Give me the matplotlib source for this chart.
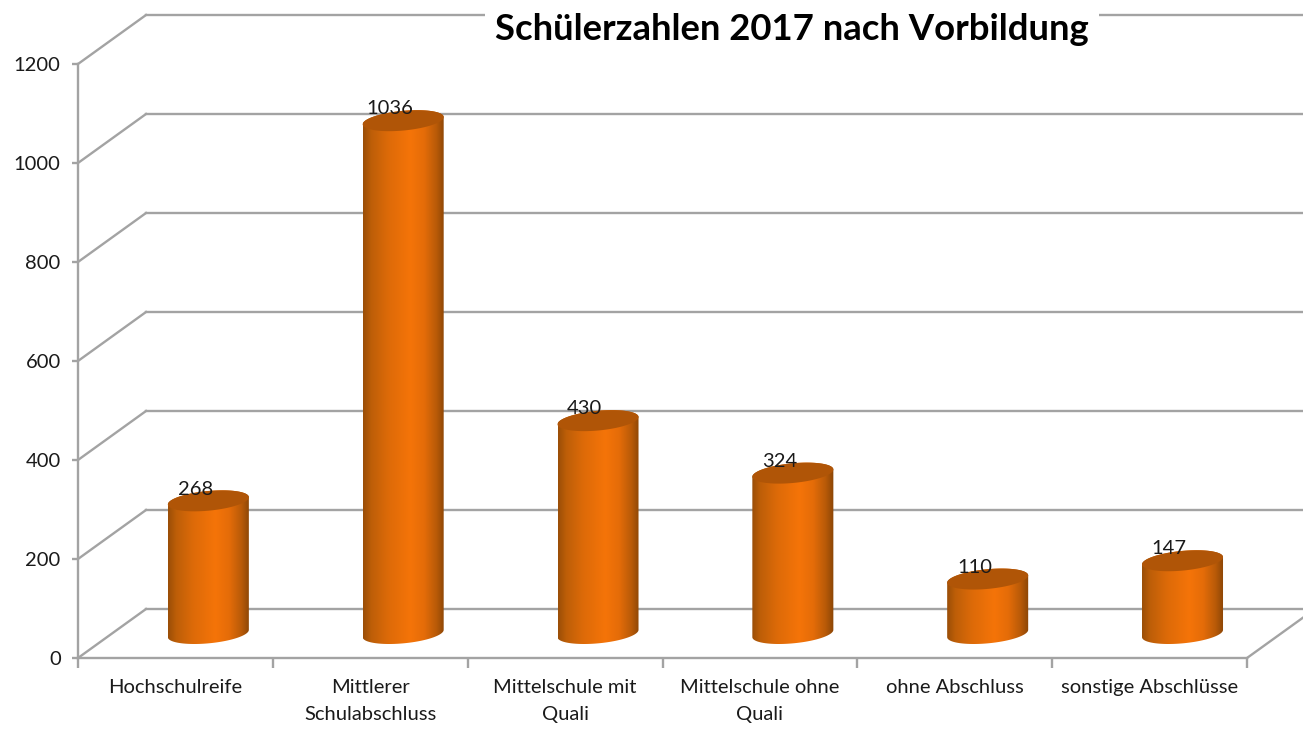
import numpy as np
import matplotlib
matplotlib.use('Agg')
import matplotlib.pyplot as plt
from matplotlib.patches import Polygon
from matplotlib.colors import LinearSegmentedColormap

plt.rcParams['font.family'] = ['Lato', 'DejaVu Sans']

# data
categories = ['Hochschulreife', 'Mittlerer\nSchulabschluss', 'Mittelschule mit\nQuali',
              'Mittelschule ohne\nQuali', 'ohne Abschluss', 'sonstige Abschlüsse']
values = [268, 1036, 430, 324, 110, 147]
yticks = [0, 200, 400, 600, 800, 1000, 1200]

W, H = 1303, 739
fig = plt.figure(figsize=(W / 100, H / 100), dpi=100)
# plot area in pixels: x 78..1247, y 64..658
ax = fig.add_axes([78 / W, 1 - 658 / H, (1247 - 78) / W, (658 - 64) / H])

grid_col = '#a3a3a3'
lw = 1.7
# one category = 194.8 px, one y unit = 0.495 px
dx = 68 / 194.8      # depth of the wall
dy = 49 / 0.495
xmax_fig = (1303 - 78) / 194.8

# back wall
for v in yticks:
    ax.plot([0, dx], [v, v + dy], color=grid_col, lw=lw, clip_on=False, zorder=1)
    ax.plot([dx, xmax_fig], [v + dy, v + dy], color=grid_col, lw=lw, clip_on=False, zorder=1)
ax.plot([6, xmax_fig], [0, (xmax_fig - 6) / dx * dy], color=grid_col, lw=lw, clip_on=False, zorder=1)

# cylinders
cmap = LinearSegmentedColormap.from_list('cyl', [
    (0.0, '#9a4e07'), (0.1, '#bd5e08'), (0.3, '#dc6a08'), (0.58, '#f57408'),
    (0.75, '#e46c08'), (0.9, '#b85a08'), (1.0, '#8a4506')])
a = 38 / 194.8
bx = 14 / 194.8
by = 10.5 / 0.495
t = np.linspace(0, 2 * np.pi, 181)
ex = a * np.cos(t) + bx * np.sin(t)
ey = by * np.sin(t)
half_w = np.sqrt(a ** 2 + bx ** 2)
grad = np.linspace(0, 1, 256).reshape(1, -1)

for i, v in enumerate(values):
    cx = i + 0.5 + 0.169
    base = dy / 2
    top = base + v
    # body = silhouette of both ellipses
    tl = np.arctan2(bx, a)
    s = np.linspace(tl, tl + np.pi, 90)          # top half, right to left
    xtop = cx + a * np.cos(s) + bx * np.sin(s)
    ytop = top + by * np.sin(s)
    s2 = np.linspace(tl + np.pi, tl + 2 * np.pi, 90)   # lower half of base, left to right
    xbot = cx + a * np.cos(s2) + bx * np.sin(s2)
    ybot = base + by * np.sin(s2)
    body = Polygon(np.column_stack([np.r_[xtop, xbot], np.r_[ytop, ybot]]),
                   closed=True, transform=ax.transData, facecolor='none', edgecolor='none')
    ax.add_patch(body)
    im = ax.imshow(grad, cmap=cmap, aspect='auto', zorder=2, vmin=0, vmax=1,
                   extent=[cx - half_w, cx + half_w, base - by, top + by], clip_on=True)
    im.set_clip_path(body)
    ax.fill(cx + ex, top + ey, color='#b05507', lw=0, zorder=3, clip_on=False)
    ax.annotate(str(v), (cx, top), xytext=(-9.5, 8.5), textcoords='offset points',
                ha='center', va='center', fontsize=14.5, color='#1a1a1a', zorder=4,
                annotation_clip=False)

ax.set_xlim(0, 6)
ax.set_ylim(0, 1200)
ax.patch.set_visible(False)

for side in ['top', 'right']:
    ax.spines[side].set_visible(False)
for side in ['left', 'bottom']:
    ax.spines[side].set_color(grid_col)
    ax.spines[side].set_linewidth(lw)

ax.set_yticks(yticks)
ax.set_xticks(range(7))
ax.set_xticklabels([])
ax.set_xticks(np.arange(6) + 0.5, minor=True)
ax.set_xticklabels(categories, minor=True, linespacing=1.7)
ax.tick_params(axis='y', length=4.5, width=lw, color=grid_col, labelsize=14.5,
               labelcolor='#1a1a1a', pad=8)
ax.tick_params(axis='x', which='major', length=7, width=lw, color=grid_col)
ax.tick_params(axis='x', which='minor', length=0, labelsize=14.5, labelcolor='#1a1a1a', pad=15)

fig.text(792 / W, 1 - 30 / H, 'Schülerzahlen 2017 nach Vorbildung', ha='center', va='center',
         fontsize=26.3, fontweight='bold', color='black', zorder=10,
         bbox=dict(facecolor='white', edgecolor='none', pad=7))

fig.savefig('out.png', dpi=100)
